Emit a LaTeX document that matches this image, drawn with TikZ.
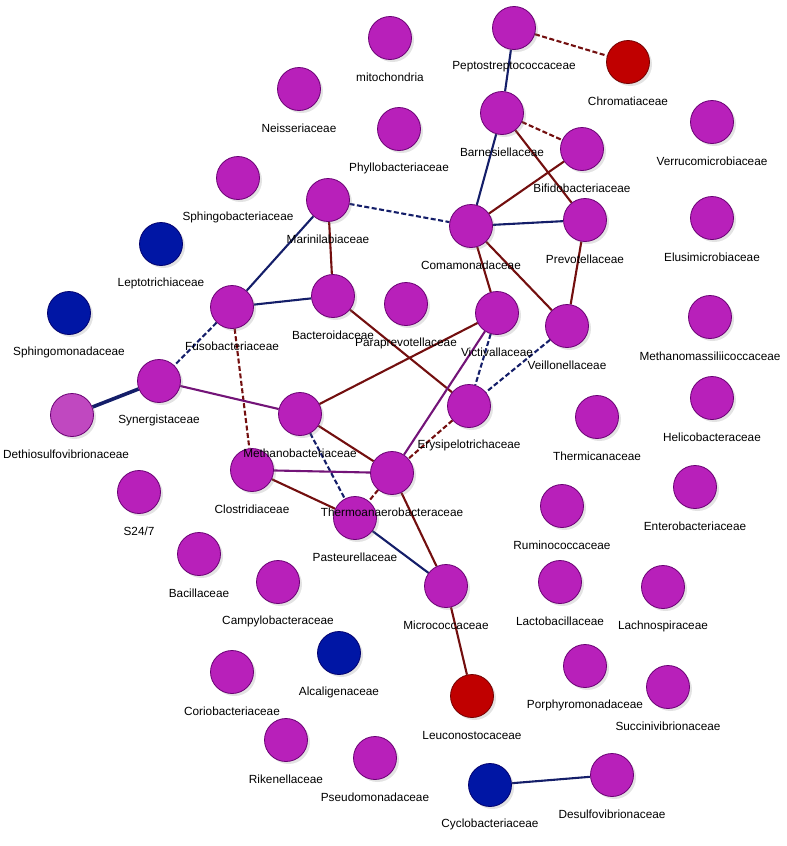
\documentclass[tikz,border=0pt]{standalone}
\usepackage{fontspec}
\setmainfont{Liberation Sans}
\usetikzlibrary{shadows,backgrounds}

\definecolor{famfill}{RGB}{184,32,186}
\definecolor{famline}{RGB}{105,0,115}
\definecolor{lightfill}{RGB}{192,72,192}
\definecolor{bluefill}{RGB}{0,22,165}
\definecolor{blueline}{RGB}{0,0,110}
\definecolor{redfill}{RGB}{192,0,0}
\definecolor{redline}{RGB}{115,0,0}
\definecolor{edgered}{RGB}{115,15,15}
\definecolor{edgeblue}{RGB}{20,30,105}
\definecolor{edgepurple}{RGB}{115,20,120}

\tikzset{
	fam/.style={circle,minimum size=43pt,inner sep=0pt,fill=famfill,draw=famline,line width=0.8pt,
		drop shadow={opacity=0.22,shadow xshift=2.5pt,shadow yshift=-2.5pt}},
	famblue/.style={fam,fill=bluefill,draw=blueline},
	famred/.style={fam,fill=redfill,draw=redline},
	famlight/.style={fam,fill=lightfill},
	lbl/.style={inner sep=0pt,font=\fontsize{11.8}{13}\selectfont},
	rededge/.style={draw=edgered,line width=2.1pt},
	blueedge/.style={draw=edgeblue,line width=2.1pt},
	purpleedge/.style={draw=edgepurple,line width=2.1pt},
	reddash/.style={rededge,dash pattern=on 5pt off 2.5pt},
	bluedash/.style={blueedge,dash pattern=on 5pt off 2.5pt}
}

\def\families{
	Pepto/fam/514/28/Peptostreptococcaceae,
	Chrom/famred/628/62/Chromatiaceae,
	Mito/fam/390/38/mitochondria,
	Neiss/fam/299/89/Neisseriaceae,
	Barnes/fam/502/113/Barnesiellaceae,
	Verruco/fam/712/122/Verrucomicrobiaceae,
	Phyllo/fam/399/129/Phyllobacteriaceae,
	Bifido/fam/582/149/Bifidobacteriaceae,
	Sphingob/fam/238/178/Sphingobacteriaceae,
	Marini/fam/328/200/Marinilabiaceae,
	Elusi/fam/712/218/Elusimicrobiaceae,
	Prevo/fam/585/220/Prevotellaceae,
	Comamo/fam/471/226/Comamonadaceae,
	Leptot/famblue/161/244/Leptotrichiaceae,
	Bactero/fam/333/296/Bacteroidaceae,
	Paraprevo/fam/406/304/Paraprevotellaceae,
	Fuso/fam/232/307/Fusobacteriaceae,
	Sphingom/famblue/69/313/Sphingomonadaceae,
	Victi/fam/497/313/Victivallaceae,
	Methmass/fam/710/317/Methanomassiliicoccaceae,
	Veillo/fam/567/326/Veillonellaceae,
	Synerg/fam/159/381/Synergistaceae,
	Helico/fam/712/398/Helicobacteraceae,
	Erysip/fam/469/406/Erysipelotrichaceae,
	Methbac/fam/300/414/Methanobacteriaceae,
	Thermic/fam/597/417/Thermicanaceae,
	Clostr/fam/252/470/Clostridiaceae,
	Thermoan/fam/392/473/Thermoanaerobacteraceae,
	Entero/fam/695/487/Enterobacteriaceae,
	Stw/fam/139/492/{S24/7},
	Rumino/fam/562/506/Ruminococcaceae,
	Pasteur/fam/355/518/Pasteurellaceae,
	Bacill/fam/199/554/Bacillaceae,
	Lacto/fam/560/582/Lactobacillaceae,
	Campylo/fam/278/582/Campylobacteraceae,
	Microc/fam/446/586/Micrococcaceae,
	Lachno/fam/663/587/Lachnospiraceae,
	Alcalig/famblue/339/653/Alcaligenaceae,
	Porphyr/fam/585/666/Porphyromonadaceae,
	Coriob/fam/232/672/Coriobacteriaceae,
	Succini/fam/668/687/Succinivibrionaceae,
	Leucon/famred/472/696/Leuconostocaceae,
	Riken/fam/286/740/Rikenellaceae,
	Pseudo/fam/375/758/Pseudomonadaceae,
	Desulfo/fam/612/775/Desulfovibrionaceae,
	Cyclob/famblue/490/785/Cyclobacteriaceae}

\begin{document}
\begin{tikzpicture}[x=1pt,y=-1pt]
	\useasboundingbox (0,0) rectangle (787,846);

	\foreach \name/\kind/\x/\y/\txt in \families
		\node[\kind] (\name) at (\x,\y) {};
	\node[famlight] (Dethio) at (72,415) {};

	\foreach \name/\kind/\x/\y/\txt in \families
		\node[lbl] (\name-lbl) at ([yshift=-39pt]\name) {\txt};
	\node[lbl] (Dethio-lbl) at ([xshift=-6pt,yshift=-39pt]Dethio) {Dethiosulfovibrionaceae};

	\begin{scope}[on background layer]
		\foreach \a/\b in {Barnes/Prevo,Bifido/Comamo,Marini/Bactero,Comamo/Victi,Comamo/Veillo,
			Prevo/Veillo,Bactero/Erysip,Methbac/Victi,Methbac/Thermoan,Clostr/Pasteur,
			Thermoan/Microc,Microc/Leucon}
			\draw[rededge] (\a) -- (\b);
		\foreach \a/\b in {Pepto/Chrom,Barnes/Bifido,Fuso/Clostr,Erysip/Thermoan,Thermoan/Pasteur}
			\draw[reddash] (\a) -- (\b);
		\foreach \a/\b in {Pepto/Barnes,Barnes/Comamo,Comamo/Prevo,Marini/Fuso,Fuso/Bactero,
			Pasteur/Microc,Cyclob/Desulfo}
			\draw[blueedge] (\a) -- (\b);
		\draw[blueedge,line width=3.6pt] (Synerg) -- (Dethio);
		\foreach \a/\b in {Marini/Comamo,Fuso/Synerg,Methbac/Pasteur,Victi/Erysip,Veillo/Erysip}
			\draw[bluedash] (\a) -- (\b);
		\foreach \a/\b in {Synerg/Methbac,Victi/Thermoan,Clostr/Thermoan}
			\draw[purpleedge] (\a) -- (\b);
	\end{scope}
\end{tikzpicture}
\end{document}
